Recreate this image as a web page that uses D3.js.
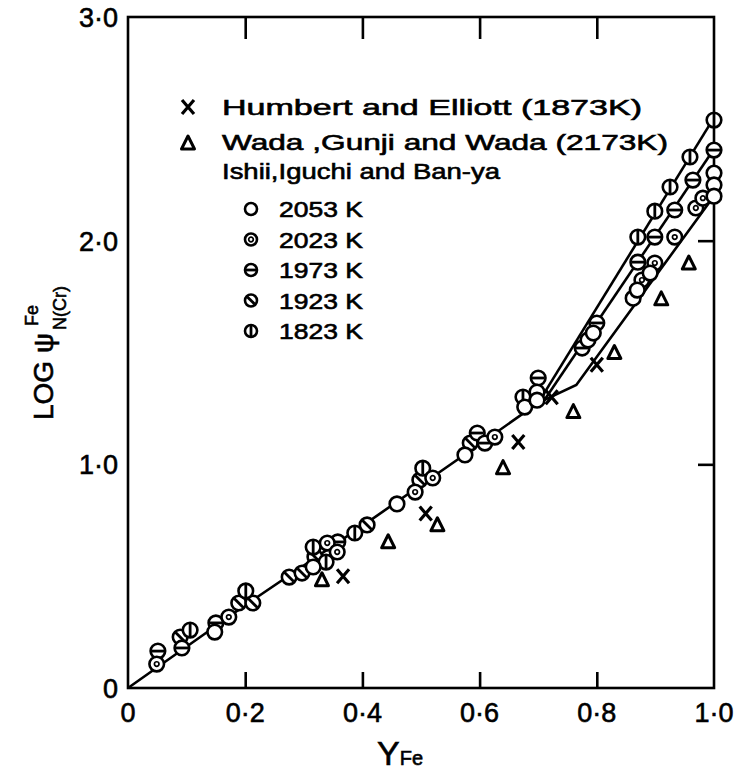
<!DOCTYPE html>
<html>
<head>
<meta charset="utf-8">
<script src="https://cdn.jsdelivr.net/npm/d3@7"></script>
<style>
  body { margin: 0; background: #fff; }
  text { font-family: "Liberation Sans", Arial, sans-serif; fill: #000; stroke: #000; stroke-width: 0.6px; }
</style>
</head>
<body>
<div id="main-container"></div>
<script>
var width = 741,
    height = 778

var xTicks = [0, 0.2, 0.4, 0.6, 0.8, 1.0]
var xTickLabels = ["0", "0·2", "0·4", "0·6", "0·8", "1·0"]
var yTicks = [0, 1, 2, 3]
var yTickLabels = ["0", "1·0", "2·0", "3·0"]

// fitted lines
var lineMain = [[0, 0], [0.2, 0.37], [0.4, 0.725], [0.6, 1.09], [0.70, 1.275]]
var line1823 = [[0.70, 1.275], [1.0, 2.55]]
var line1973 = [[0.71, 1.285], [1.0, 2.41]]
var line2053 = [[0.70, 1.275], [0.765, 1.355], [1.0, 2.20]]

var humbert = [[0.367, 0.50], [0.508, 0.78], [0.666, 1.10], [0.723, 1.30], [0.80, 1.445]]
var wada = [[0.331, 0.484], [0.444, 0.654], [0.528, 0.73], [0.64, 0.985], [0.76, 1.236], [0.83, 1.50], [0.91, 1.74], [0.957, 1.90]]

var ishii2053 = [[0.148, 0.250], [0.316, 0.541], [0.459, 0.823], [0.575, 1.042], [0.677, 1.256], [0.698, 1.323], [0.698, 1.287],
  [0.785, 1.556], [0.794, 1.587], [0.862, 1.743], [0.869, 1.779], [0.891, 1.855], [1.0, 2.302], [1.0, 2.249], [1.0, 2.199]]
var ishii2023 = [[0.049, 0.107], [0.172, 0.317], [0.340, 0.648], [0.357, 0.608], [0.490, 0.876], [0.520, 0.939], [0.626, 1.122],
  [0.877, 1.824], [0.899, 1.900], [0.933, 2.016], [0.969, 2.146], [0.981, 2.190]]
var ishii1973 = [[0.051, 0.165], [0.092, 0.179], [0.150, 0.291], [0.358, 0.653], [0.596, 1.140], [0.609, 1.095], [0.700, 1.386],
  [0.775, 1.520], [0.800, 1.632], [0.870, 1.904], [0.899, 2.016], [0.933, 2.137], [0.964, 2.271], [1.0, 2.405]]
var ishii1923 = [[0.089, 0.228], [0.189, 0.380], [0.213, 0.380], [0.275, 0.496], [0.297, 0.514], [0.319, 0.586], [0.408, 0.729],
  [0.498, 0.930], [0.584, 1.095]]
var ishii1823 = [[0.106, 0.259], [0.201, 0.434], [0.316, 0.630], [0.338, 0.563], [0.387, 0.693], [0.503, 0.983], [0.674, 1.301],
  [0.870, 2.016], [0.899, 2.132], [0.925, 2.240], [0.959, 2.374], [1.0, 2.539]]

var legendTemps = ["2053 K", "2023 K", "1973 K", "1923 K", "1823 K"]
var legendKinds = ["open", "dot", "hbar", "diag", "vbar"]

var x = d3.scaleLinear().domain([0, 1]).range([128, 714])
var y = d3.scaleLinear().domain([0, 3]).range([688, 17])

var svg = d3.select("#main-container").append("svg")
  .attr("width", width)
  .attr("height", height)

var ink = "#000"

// frame
svg.append("rect")
  .attr("x", x(0)).attr("y", y(3))
  .attr("width", x(1) - x(0)).attr("height", y(0) - y(3))
  .attr("fill", "none").attr("stroke", ink).attr("stroke-width", 2.6)

var bottomAxis = d3.axisBottom(x).tickValues(xTicks.slice(1, 5)).tickSizeInner(-16).tickSizeOuter(0).tickFormat("")
svg.append("g").attr("transform", "translate(0," + y(0) + ")").call(bottomAxis)
var topAxis = d3.axisTop(x).tickValues(xTicks.slice(1, 5)).tickSizeInner(-22).tickSizeOuter(0).tickFormat("")
svg.append("g").attr("transform", "translate(0," + y(3) + ")").call(topAxis)
var rightAxis = d3.axisRight(y).tickValues([1, 2]).tickSizeInner(-16).tickSizeOuter(0).tickFormat("")
svg.append("g").attr("transform", "translate(" + x(1) + ",0)").call(rightAxis)
svg.selectAll(".domain").remove()
svg.selectAll(".tick line").attr("stroke", ink).attr("stroke-width", 2.6)

svg.selectAll(".xlab")
  .data(xTicks)
  .enter().append("text")
  .attr("x", function(d) { return x(d) })
  .attr("y", 722)
  .attr("text-anchor", "middle")
  .attr("font-size", 27)
  .text(function(d, i) { return xTickLabels[i] })

svg.selectAll(".ylab")
  .data(yTicks)
  .enter().append("text")
  .attr("x", 118)
  .attr("y", function(d) { return y(d) + 10 })
  .attr("text-anchor", "end")
  .attr("font-size", 27)
  .text(function(d, i) { return yTickLabels[i] })

// axis titles
var xt = svg.append("text").attr("x", 377).attr("y", 765).attr("font-size", 34)
xt.append("tspan").text("Y")
xt.append("tspan").attr("font-size", 20).text("Fe")

var yt = svg.append("g").attr("transform", "translate(53,420) rotate(-90)")
yt.append("text").attr("x", 0).attr("y", 0).attr("font-size", 28).text("LOG ψ")
yt.append("text").attr("x", 94).attr("y", -15).attr("font-size", 18).text("Fe")
yt.append("text").attr("x", 90).attr("y", 13).attr("font-size", 18).text("N(Cr)")

// lines
var line = d3.line().x(function(d) { return x(d[0]) }).y(function(d) { return y(d[1]) })
svg.selectAll(".fit")
  .data([lineMain, line1823, line1973, line2053])
  .enter().append("path")
  .attr("d", line)
  .attr("fill", "none")
  .attr("stroke", ink)
  .attr("stroke-width", 2.6)

function drawCircle(g, kind, r) {
  g.append("circle").attr("r", r).attr("fill", "#fff").attr("stroke", ink).attr("stroke-width", 2.6)
  var s = r - 1
  if (kind == "dot") {
    g.append("circle").attr("r", 2.3).attr("fill", "none").attr("stroke", ink).attr("stroke-width", 1.7)
  } else if (kind == "hbar") {
    g.append("line").attr("x1", -s).attr("x2", s).attr("y1", 0).attr("y2", 0).attr("stroke", ink).attr("stroke-width", 2.8)
  } else if (kind == "vbar") {
    g.append("line").attr("x1", 0).attr("x2", 0).attr("y1", -s).attr("y2", s).attr("stroke", ink).attr("stroke-width", 2.8)
  } else if (kind == "diag") {
    var k = s * 0.72
    g.append("line").attr("x1", -k).attr("x2", k).attr("y1", -k).attr("y2", k).attr("stroke", ink).attr("stroke-width", 2.8)
  }
}

function drawCross(g) {
  g.append("path").attr("d", "M-6,-7L6,7M6,-7L-6,7").attr("stroke", ink).attr("stroke-width", 3.2).attr("fill", "none")
}

function drawTri(g) {
  g.append("path").attr("d", "M0,-7L6.5,6L-6.5,6Z").attr("stroke", ink).attr("stroke-width", 3)
    .attr("fill", "none").attr("stroke-linejoin", "round")
}

var ishiiSets = [
  {kind: "diag", data: ishii1923},
  {kind: "vbar", data: ishii1823},
  {kind: "hbar", data: ishii1973},
  {kind: "dot", data: ishii2023},
  {kind: "open", data: ishii2053}
]

ishiiSets.forEach(function(set) {
  svg.append("g").selectAll("g")
    .data(set.data)
    .enter().append("g")
    .attr("transform", function(d) { return "translate(" + x(d[0]) + "," + y(d[1]) + ")" })
    .each(function() { drawCircle(d3.select(this), set.kind, 7.3) })
})

svg.append("g").selectAll("g")
  .data(humbert)
  .enter().append("g")
  .attr("transform", function(d) { return "translate(" + x(d[0]) + "," + y(d[1]) + ")" })
  .each(function() { drawCross(d3.select(this)) })

svg.append("g").selectAll("g")
  .data(wada)
  .enter().append("g")
  .attr("transform", function(d) { return "translate(" + x(d[0]) + "," + y(d[1]) + ")" })
  .each(function() { drawTri(d3.select(this)) })

// legend
var leg = svg.append("g")
drawCross(leg.append("g").attr("transform", "translate(188,107)"))
leg.append("text").attr("x", 222).attr("y", 115).attr("font-size", 22)
  .attr("textLength", 420).attr("lengthAdjust", "spacingAndGlyphs").text("Humbert and Elliott (1873K)")
drawTri(leg.append("g").attr("transform", "translate(188,143)"))
leg.append("text").attr("x", 222).attr("y", 150).attr("font-size", 22)
  .attr("textLength", 446).attr("lengthAdjust", "spacingAndGlyphs").text("Wada ,Gunji and Wada (2173K)")
leg.append("text").attr("x", 222).attr("y", 179).attr("font-size", 22)
  .attr("textLength", 278).attr("lengthAdjust", "spacingAndGlyphs").text("Ishii,Iguchi and Ban-ya")

legendTemps.forEach(function(t, i) {
  var cy = 209 + i * 30.5
  drawCircle(leg.append("g").attr("transform", "translate(251," + cy + ")"), legendKinds[i], 6)
  leg.append("text").attr("x", 279).attr("y", cy + 8).attr("font-size", 22)
    .attr("textLength", 84).attr("lengthAdjust", "spacingAndGlyphs").text(t)
})
</script>
</body>
</html>
